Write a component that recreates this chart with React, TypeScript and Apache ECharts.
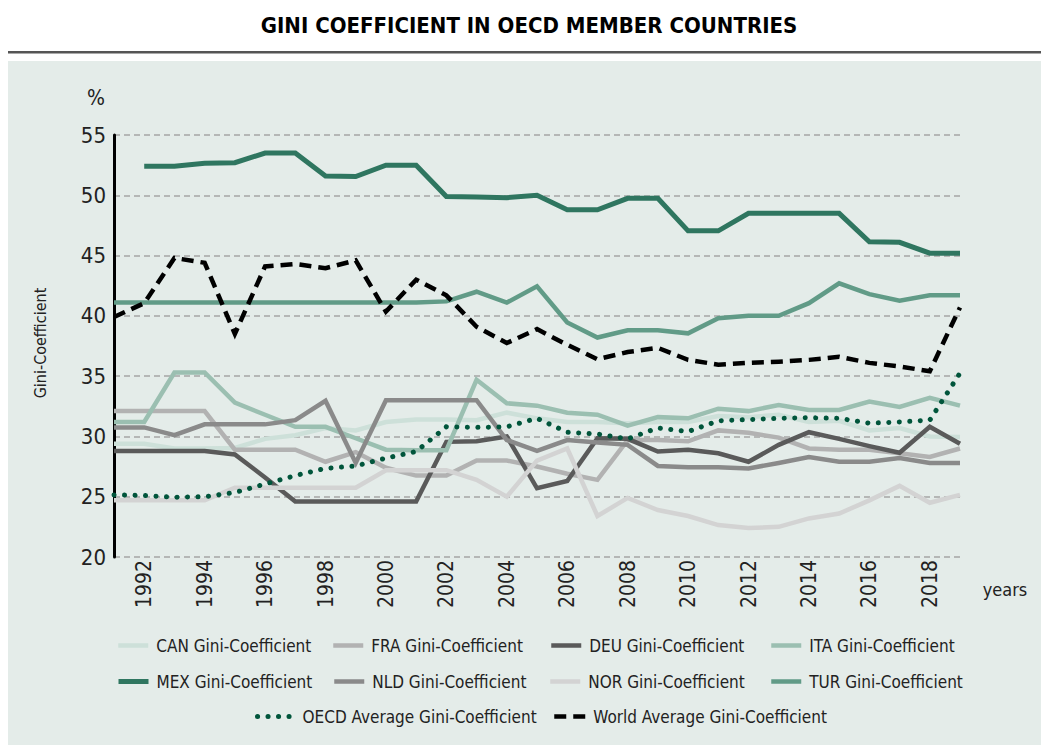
import React, { useEffect, useRef } from "react";
import * as echarts from "echarts";

const years = [
  "1991", "1992", "1993", "1994", "1995", "1996", "1997", "1998", "1999", "2000",
  "2001", "2002", "2003", "2004", "2005", "2006", "2007", "2008", "2009", "2010",
  "2011", "2012", "2013", "2014", "2015", "2016", "2017", "2018", "2019",
];

const can = [29.4, 29.4, 29.0, 29.0, 29.05, 29.8, 30.1, 30.7, 30.5, 31.2, 31.4, 31.4, 31.35, 31.97, 31.5, 31.2, 31.2, 31.1, 31.2, 31.2, 31.7, 31.6, 31.8, 31.2, 31.3, 30.5, 30.7, 30.0, 29.95];
const fra = [32.1, 32.1, 32.1, 32.1, 28.9, 28.9, 28.9, 27.9, 28.7, 27.4, 26.75, 26.75, 28.0, 28.0, 27.5, 26.9, 26.4, 29.7, 29.7, 29.6, 30.5, 30.3, 29.9, 29.0, 28.9, 28.9, 28.6, 28.3, 29.0];
const deu = [28.8, 28.8, 28.8, 28.8, 28.5, 26.6, 24.6, 24.6, 24.6, 24.6, 24.6, 29.55, 29.6, 30.0, 25.7, 26.3, 29.85, 29.8, 28.75, 28.9, 28.6, 27.9, 29.3, 30.35, 29.8, 29.2, 28.65, 30.8, 29.4];
const ita = [31.2, 31.2, 35.3, 35.3, 32.8, 31.8, 30.8, 30.8, 29.85, 28.9, 28.85, 28.85, 34.7, 32.75, 32.55, 31.97, 31.8, 30.9, 31.6, 31.5, 32.3, 32.1, 32.6, 32.2, 32.2, 32.9, 32.45, 33.2, 32.55];
const mex = [null, 52.4, 52.4, 52.65, 52.7, 53.5, 53.5, 51.6, 51.55, 52.5, 52.5, 49.9, 49.85, 49.8, 50.0, 48.8, 48.8, 49.75, 49.75, 47.05, 47.05, 48.5, 48.5, 48.5, 48.5, 46.15, 46.1, 45.2, 45.2];
const nld = [30.75, 30.75, 30.1, 31.0, 31.0, 31.0, 31.35, 32.95, 27.8, 33.0, 33.0, 33.0, 33.0, 29.7, 28.8, 29.7, 29.5, 29.3, 27.55, 27.45, 27.45, 27.35, 27.8, 28.3, 27.9, 27.9, 28.2, 27.8, 27.8];
const nor = [24.7, 24.7, 24.7, 24.7, 25.75, 25.75, 25.75, 25.75, 25.75, 27.2, 27.2, 27.2, 26.4, 25.0, 28.0, 29.0, 23.4, 24.9, 23.9, 23.4, 22.65, 22.4, 22.5, 23.2, 23.6, 24.7, 25.9, 24.5, 25.15];
const tur = [41.1, 41.1, 41.1, 41.1, 41.1, 41.1, 41.1, 41.1, 41.1, 41.1, 41.1, 41.2, 42.0, 41.1, 42.45, 39.45, 38.2, 38.8, 38.8, 38.55, 39.8, 40.0, 40.0, 41.05, 42.7, 41.8, 41.25, 41.7, 41.7];
const oecd = [25.15, 25.1, 24.95, 25.0, 25.35, 26.05, 26.75, 27.35, 27.55, 28.2, 28.75, 30.8, 30.75, 30.8, 31.5, 30.35, 30.2, 29.8, 30.7, 30.4, 31.3, 31.4, 31.5, 31.55, 31.5, 31.1, 31.2, 31.35, 35.25];
const world = [39.9, 41.05, 44.8, 44.4, 38.5, 44.1, 44.3, 43.95, 44.6, 40.35, 43.0, 41.7, 39.1, 37.75, 38.9, 37.6, 36.4, 37.0, 37.35, 36.35, 35.95, 36.1, 36.2, 36.35, 36.6, 36.1, 35.8, 35.4, 40.7];

const yTicks = { min: 20, max: 55, interval: 5 };

const FONT = "'Liberation Sans Narrow', 'Arial Narrow', 'DejaVu Sans Condensed', sans-serif";

type S = { name: string; data: (number | null)[]; color: string; width: number; dash?: any; cap?: string };

const seriesDefs: S[] = [
  { name: "CAN Gini-Coefficient", data: can, color: "#cde0d9", width: 4.5 },
  { name: "FRA Gini-Coefficient", data: fra, color: "#b2b2b2", width: 4.5 },
  { name: "DEU Gini-Coefficient", data: deu, color: "#5a5a5a", width: 4.5 },
  { name: "ITA Gini-Coefficient", data: ita, color: "#9bbfb1", width: 4.5 },
  { name: "MEX Gini-Coefficient", data: mex, color: "#2f7660", width: 5 },
  { name: "NLD Gini-Coefficient", data: nld, color: "#8a8a8a", width: 4.5 },
  { name: "NOR Gini-Coefficient", data: nor, color: "#d3d3d3", width: 4.5 },
  { name: "TUR Gini-Coefficient", data: tur, color: "#619b87", width: 4.5 },
  { name: "OECD Average Gini-Coefficient", data: oecd, color: "#00553b", width: 5, dash: [0.1, 10.4], cap: "round" },
  { name: "World Average Gini-Coefficient", data: world, color: "#000000", width: 4.5, dash: [12, 7], cap: "butt" },
];

const legendPos: [number, number, number][] = [
  [116, 647, 30], [331, 647, 30], [549, 647, 30], [769, 647, 30],
  [116, 683, 30], [332, 683, 30], [548, 683, 30], [769, 683, 30],
  [255, 718, 37], [552, 718, 31],
];

export default function App() {
  const ref = useRef<HTMLDivElement>(null);
  useEffect(() => {
    document.body.style.margin = "0";
    if (!ref.current) return;
    const chart = echarts.init(ref.current, null, { renderer: "svg" });
    const option: any = {
      animation: false,
      backgroundColor: "#ffffff",
      textStyle: { fontFamily: FONT },
      graphic: [
        { type: "rect", z: -100, silent: true, shape: { x: 8, y: 61, width: 1033, height: 684 }, style: { fill: "#e4ece9" } },
        { type: "rect", z: -100, silent: true, shape: { x: 8, y: 51, width: 1033, height: 2.5 }, style: { fill: "#555555" } },
        {
          type: "text", x: 529, y: 25,
          style: { text: "GINI COEFFICIENT IN OECD MEMBER COUNTRIES", fontFamily: FONT, fontWeight: "bold", fontSize: 22, fill: "#000", textAlign: "center", textVerticalAlign: "middle" },
        },
        { type: "text", x: 96, y: 98, style: { text: "%", fontFamily: FONT, fontSize: 21, fill: "#222", textAlign: "center", textVerticalAlign: "middle" } },
        { type: "text", x: 1005, y: 589, style: { text: "years", fontFamily: FONT, fontSize: 18, fill: "#222", textAlign: "center", textVerticalAlign: "middle" } },
        { type: "text", x: 40, y: 343, rotation: Math.PI / 2, style: { text: "Gini-Coefficient", fontFamily: FONT, fontSize: 16, fill: "#222", textAlign: "center", textVerticalAlign: "middle" } },
      ],
      grid: { left: 114, right: 81, top: 135, bottom: 188, containLabel: false },
      legend: seriesDefs.map((s, i) => ({
        data: [s.name],
        left: legendPos[i][0],
        top: legendPos[i][1] - 10,
        itemWidth: legendPos[i][2],
        itemHeight: 14,
        padding: 0,
        itemGap: 0,
        selectedMode: false,
        lineStyle: { width: s.width },
        itemStyle: { opacity: 0, color: "rgba(0,0,0,0)", borderColor: "rgba(0,0,0,0)", borderWidth: 0 },
        textStyle: { fontFamily: FONT, fontSize: 17, color: "#222", padding: [0, 0, 0, 3] },
      })),
      xAxis: {
        type: "category",
        data: years,
        boundaryGap: false,
        axisLine: { show: false },
        axisTick: { show: false },
        splitLine: { show: false },
        axisLabel: {
          rotate: 90,
          interval: (_i: number, v: string) => Number(v) % 2 === 0,
          fontFamily: FONT,
          fontSize: 21,
          color: "#222",
          margin: 3,
        },
      },
      yAxis: {
        type: "value",
        min: yTicks.min,
        max: yTicks.max,
        interval: yTicks.interval,
        axisLine: { show: true, lineStyle: { color: "#000", width: 3 } },
        axisTick: { show: false },
        axisLabel: { fontFamily: FONT, fontSize: 22, color: "#222", margin: 8 },
        splitLine: { show: true, lineStyle: { color: "#a5a5a5", width: 1.5, type: [6, 4] } },
      },
      series: seriesDefs.map((s) => ({
        name: s.name,
        type: "line",
        data: s.data,
        symbol: "none",
        showSymbol: false,
        connectNulls: false,
        color: s.color,
        lineStyle: { color: s.color, width: s.width, type: s.dash || "solid", cap: s.cap || "butt", join: "miter" },
        emphasis: { disabled: true },
      })),
    };
    chart.setOption(option);
    return () => chart.dispose();
  }, []);
  return <div ref={ref} style={{ width: 1041, height: 745 }} />;
}
